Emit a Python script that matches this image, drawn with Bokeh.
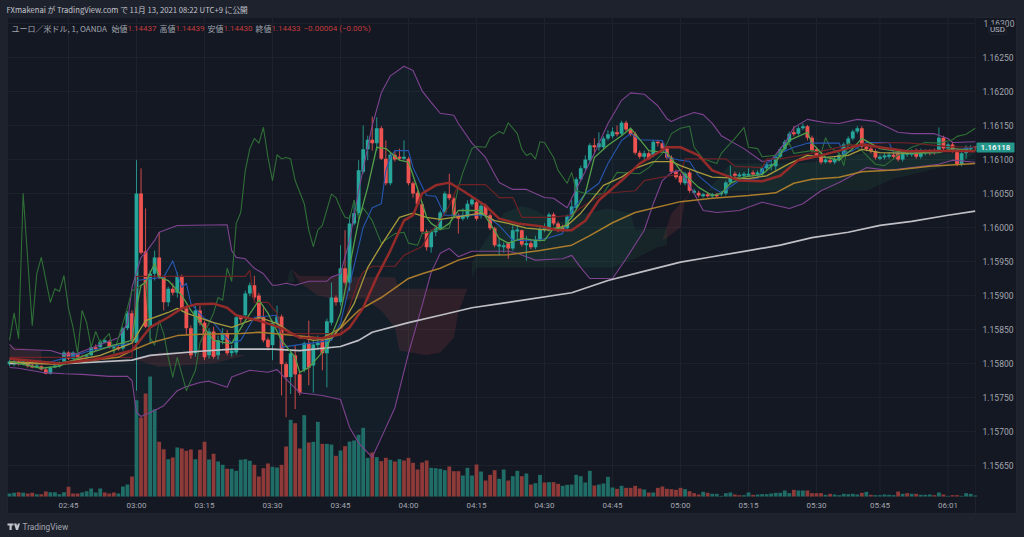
from bokeh.plotting import figure
from bokeh.embed import file_html
from bokeh.resources import INLINE
from bokeh.models import (BoxAnnotation, FixedTicker, Label, NumeralTickFormatter,
                          PolyAnnotation, Range1d)

# All price series are in points (1e-5) above 1.15000; index is the bar number, 03:00 = 0
first_bar = -28
opens = [799,799,803,800,802,797,794,796,791,785,
794,796,803,816,807,815,810,809,812,824,
824,831,832,822,824,822,852,874,
830,1050,965,853,932,956,927,890,910,904,
928,881,852,815,878,860,812,847,812,834,
844,815,816,868,871,903,915,900,868,835,
827,860,869,799,780,812,784,791,830,797,
827,834,815,860,897,890,940,919,1006,1021,
1082,1115,1129,1124,1146,1101,1065,1107,1104,1101,
1101,1065,1051,1034,994,971,993,999,1022,1049,
1043,1018,1013,1015,1034,1037,1018,1032,1018,999,
972,971,977,969,994,996,974,977,971,982,
996,997,1019,1006,1000,999,1016,1029,1071,1087,
1099,1121,1118,1118,1131,1134,1140,1138,1154,1144,
1138,1110,1104,1109,1106,1126,1124,1116,1103,1082,
1076,1065,1081,1051,1051,1046,1049,1046,1049,1049,
1050,1066,1079,1075,1076,1076,1081,1078,1079,1087,
1090,1090,1104,1115,1126,1140,1138,1146,1149,1132,
1115,1104,1096,1099,1096,1100,1107,1122,1131,1141,
1146,1119,1116,1112,1101,1103,1104,1107,1109,1100,
1107,1107,1109,1104,1109,1112,1113,1113,1132,1116,
1122,1113,1093,1109,1115,1119]
closes = [803,803,800,803,796,794,797,791,785,794,
797,802,816,807,816,807,807,812,824,821,
832,834,824,825,821,852,874,835,
1050,963,854,932,956,927,890,910,904,929,
881,852,812,878,860,809,847,810,834,844,
815,819,868,865,903,915,897,866,834,824,
860,869,799,780,815,784,757,830,794,828,
831,815,862,897,890,940,919,1006,1021,1084,
1115,1129,1124,1146,1101,1065,1107,1100,1101,1104,
1065,1050,1034,994,971,994,1000,1022,1050,1043,
1018,1013,1018,1035,1041,1013,1032,1018,999,974,
975,974,969,996,997,975,977,971,982,997,
999,1019,1006,999,997,1016,1031,1071,1087,1100,
1121,1118,1124,1131,1137,1141,1137,1154,1144,1137,
1110,1104,1109,1101,1126,1124,1116,1103,1082,1074,
1066,1079,1054,1054,1047,1049,1046,1049,1046,1051,
1066,1076,1076,1078,1079,1079,1078,1081,1087,1093,
1093,1104,1115,1126,1138,1137,1146,1149,1132,1113,
1106,1096,1100,1096,1101,1107,1122,1131,1141,1146,
1119,1115,1112,1103,1104,1106,1107,1104,1100,1109,
1110,1110,1104,1110,1112,1109,1110,1132,1116,1122,
1113,1093,1109,1118,1118,1118]
highs = [806,806,805,805,805,799,799,797,794,796,
799,803,819,818,818,816,813,813,827,828,
835,837,835,828,827,854,877,878,
1099,1087,1028,937,966,993,929,913,918,934,
931,885,856,885,885,863,852,854,841,852,
849,827,872,871,907,919,929,904,885,838,
863,885,872,802,819,827,787,832,863,834,
841,837,866,919,900,974,996,1018,1040,1099,
1150,1135,1163,1162,1149,1128,1110,1113,1116,1128,
1104,1068,1054,1037,997,997,1003,1025,1053,1079,
1046,1021,1028,1040,1044,1040,1037,1035,1021,1001,
984,978,979,1003,1004,997,988,981,988,1001,
1006,1022,1022,1009,1004,1019,1040,1074,1091,1106,
1124,1131,1140,1134,1143,1147,1150,1157,1157,1147,
1141,1113,1113,1112,1129,1129,1126,1119,1106,1085,
1079,1082,1084,1057,1054,1051,1051,1051,1051,1054,
1069,1091,1082,1081,1082,1087,1084,1084,1090,1096,
1099,1107,1118,1129,1141,1149,1149,1153,1151,1135,
1118,1107,1103,1101,1104,1110,1125,1134,1144,1149,
1149,1122,1119,1115,1107,1109,1110,1110,1112,1112,
1113,1115,1116,1116,1115,1115,1116,1147,1135,1125,
1125,1116,1112,1121,1121,1119]
lows = [796,796,797,797,794,793,793,790,784,784,
793,794,802,805,806,806,806,807,810,818,
822,830,822,821,819,819,849,831,
760,960,852,830,922,924,878,884,900,897,
877,841,807,810,856,805,807,807,806,828,
812,810,813,860,866,899,893,862,831,819,
805,856,753,721,755,733,753,787,768,757,
819,790,765,856,885,885,916,907,1003,1018,
1079,1099,1113,1113,1099,1062,1062,1097,1099,1099,
1062,1044,1031,991,966,963,987,996,1019,1040,
1013,991,1010,1012,1031,1010,1013,1015,996,971,
959,963,954,966,981,972,951,968,968,979,
993,994,1003,993,994,994,1013,1026,1068,1084,
1096,1110,1113,1115,1128,1131,1134,1135,1141,1134,
1107,1101,1100,1099,1103,1119,1113,1100,1079,1071,
1063,1062,1051,1050,1044,1044,1044,1043,1044,1046,
1047,1063,1074,1074,1074,1074,1075,1075,1076,1084,
1084,1084,1101,1112,1124,1134,1135,1143,1128,1110,
1103,1093,1094,1094,1093,1097,1104,1119,1128,1138,
1116,1112,1109,1100,1099,1100,1101,1101,1097,1097,
1104,1104,1101,1101,1106,1106,1107,1110,1113,1113,
1110,1090,1090,1101,1112,1113]
volumes = [9,11,13,11,9,11,7,7,15,13,
13,7,13,29,9,9,12,16,24,12,
24,12,9,12,9,30,36,60,
289,237,309,360,262,164,142,112,117,147,
144,137,141,112,140,164,111,128,105,95,
83,83,77,110,112,107,95,60,85,99,
89,87,95,150,230,220,144,244,162,164,
224,158,158,156,122,138,151,165,168,185,
206,116,132,118,106,116,110,105,112,108,
116,101,81,102,108,86,85,83,79,90,
76,76,63,86,63,96,75,48,65,79,
53,81,48,61,77,61,69,36,40,65,
42,43,43,38,32,35,36,65,61,42,
77,33,36,39,59,27,23,32,26,26,
32,24,21,12,12,26,30,23,22,20,
26,22,16,10,6,14,11,8,8,2,
10,12,6,4,4,12,5,6,7,7,
9,11,11,18,10,20,18,18,18,10,
10,10,5,8,6,4,8,7,8,6,
11,14,5,4,4,6,5,4,15,8,
10,8,8,5,5,6,4,12,6,2,
4,4,2,10,8,3]
volume_dirs = ("ggrgrrgrrg" "gggrrrgggg" "grrrgggr"
"grrggrrgrg" "rrrgrrgrgg" "rgggggrrrr" "ggrrgrrgrg" "grggrgrggg"
"ggrgrrgrgr" "rrrrrggggr" "rrgggrgrrr" "ggrggrgrgg" "rgrrgggggg"
"grggggrgrr" "rrgrgrrrrr" "rgrrrgrggg" "ggrrggrggg" "gggggrggrr"
"rrgrgggggg" "rgrgggggrg" "rgrgggrgrg" "rrgggg")

upper_x = [-28,-27,-19,-16,-13,-4,-2,-1,1,2,4,5,9,20,21,22,24,26,28,30,31,33,35,38,42,43,45,47,49,52,54,56,59,61,63,65,67,70,71,74,77,80,83,86,90,92,95,96,101,104,107,109,112,115,117,118,120,123,125,127,129,134,138,140,143,145,148,152,155,159,163,168,171,176,179,180,185]
upper_y = [828,821,819,813,815,838,859,912,956,963,981,993,1003,1004,966,956,954,940,932,915,915,918,915,921,921,927,932,981,1054,1150,1198,1223,1237,1231,1201,1184,1168,1165,1153,1124,1103,1066,1056,1056,1044,1043,1029,1043,1109,1153,1187,1198,1196,1179,1160,1156,1162,1169,1166,1153,1135,1116,1097,1099,1124,1147,1159,1154,1153,1159,1156,1140,1138,1138,1131,1125,1126]
lower_x = [-28,-26,-21,-16,-12,-6,-2,-1,0,1,4,6,9,11,14,16,20,21,25,29,31,33,36,41,45,47,49,52,54,57,60,63,65,67,69,71,74,82,84,88,94,96,98,100,105,108,112,114,116,118,120,123,125,128,133,138,144,147,151,155,161,166,171,177,180,185]
lower_y = [794,793,787,785,784,781,781,775,728,722,731,738,760,766,772,774,765,780,790,787,791,777,757,753,747,706,683,662,691,735,815,885,934,962,969,957,965,965,962,952,954,959,941,925,925,954,996,1035,1069,1081,1084,1050,1025,1022,1025,1037,1028,1035,1054,1066,1088,1084,1088,1093,1099,1096]
chikou_x = [-28,-27,-26,-25,-23,-22,-21,-19,-18,-17,-16,-15,-14,-13,-12,-11,-10,-9,-8,-6,-5,-2,-1,1,2,3,4,5,6,7,8,9,11,13,14,17,18,19,20,21,22,23,24,25,26,27,28,29,30,31,32,33,34,35,37,38,39,40,41,43,44,45,46,47,48,49,50,52,54,57,59,60,62,63,66,69,71,72,74,75,77,78,80,81,82,84,85,86,87,88,89,90,92,93,95,96,97,99,102,103,106,111,113,116,118,120,122,123,125,128,129,132,134,135,137,138,141,144,145,149,151,152,153,155,156,157,160,163,165,168,171,174,177,180,181,183,185]
chikou_y = [834,874,837,1050,856,932,956,890,910,906,929,881,853,815,878,860,824,847,830,844,815,882,907,915,918,838,827,863,844,809,780,809,760,790,830,874,897,893,940,921,1006,1022,1084,1116,1131,1124,1147,1103,1069,1107,1101,1103,1101,1069,1035,996,972,996,1003,1049,1044,1028,1015,1013,1040,1013,1029,1010,977,991,993,977,974,991,996,999,1059,1081,1116,1119,1118,1132,1141,1138,1154,1138,1115,1106,1109,1101,1126,1125,1103,1084,1065,1081,1054,1050,1049,1050,1081,1079,1088,1109,1138,1146,1149,1118,1101,1094,1109,1131,1147,1118,1116,1104,1106,1124,1109,1113,1109,1132,1118,1109,1091,1124,1113,1093,1091,1106,1118,1125,1124,1129,1134,1137,1146]
tenkan_x = [-28,-19,-10,-8,-1,0,6,8,10,11,12,15,17,19,21,23,26,31,32,43,45,50,52,54,55,56,57,60,61,62,64,66,68,77,80,83,88,91,94,96,99,102,104,107,109,111,116,117,120,122,124,127,129,133,137,139,142,145,148,155,156,158,161,166,167,176,185]
tenkan_y = [807,802,819,822,830,922,927,951,912,918,888,866,860,844,830,834,868,871,824,834,859,1000,1029,1035,1084,1103,1113,1113,1088,1074,1047,1046,1018,1018,1003,981,981,985,991,1025,1050,1065,1094,1128,1138,1129,1128,1103,1099,1097,1076,1059,1051,1069,1072,1094,1109,1118,1124,1124,1109,1113,1125,1125,1110,1110,1118]
kijun_x = [-28,-1,0,24,25,26,29,31,32,45,49,50,52,57,59,63,65,66,69,71,77,80,83,85,91,96,98,103,110,112,116,120,121,130,132,138,139,142,149,157,167,171,179,185]
kijun_y = [809,809,928,928,937,890,890,874,844,844,922,934,943,943,959,972,996,1000,1032,1063,1063,1044,1044,1015,1015,1018,1029,1050,1054,1069,1074,1079,1101,1101,1090,1088,1101,1101,1109,1121,1125,1124,1119,1118]
fast_x = [-28,-21,-17,-10,-5,-1,0,1,2,4,5,7,10,12,15,17,20,21,24,27,29,32,35,36,38,42,45,46,48,49,51,53,55,58,60,62,64,65,67,69,71,76,78,80,82,85,88,90,92,94,96,99,101,104,107,109,113,117,120,124,127,129,131,134,138,141,144,148,149,152,155,158,160,164,171,177,180,185]
fast_y = [803,793,796,816,827,834,882,915,919,947,927,922,900,878,852,834,830,830,863,893,874,834,809,787,794,824,874,907,977,1010,1059,1118,1116,1099,1096,1057,1015,1006,997,1006,1025,1025,1006,984,977,984,981,981,999,999,1015,1050,1103,1121,1135,1146,1113,1110,1084,1059,1047,1050,1065,1074,1078,1096,1128,1140,1124,1103,1099,1116,1131,1116,1109,1110,1116,1113]
yellow_x = [-28,-17,-8,-1,2,7,9,11,17,21,27,31,35,39,43,45,48,51,54,58,61,64,67,70,76,79,82,86,91,95,98,103,107,110,114,118,120,124,127,135,139,144,148,152,157,160,164,171,179,185]
yellow_y = [802,800,812,830,863,875,881,874,860,853,868,859,841,834,837,853,888,941,974,1015,1021,1015,1012,1015,1021,1010,1006,999,996,1003,1021,1062,1074,1087,1097,1097,1091,1081,1074,1072,1076,1094,1106,1103,1106,1115,1110,1109,1113,1113]
red_x = [-28,-17,-8,-1,3,7,10,13,17,20,22,27,32,36,41,45,47,50,53,56,59,61,63,66,69,72,77,80,84,89,93,96,99,102,107,111,117,120,124,127,133,138,142,146,151,155,160,164,170,179,185]
red_y = [807,800,807,819,853,868,881,887,888,882,871,863,852,838,837,843,853,882,927,966,1010,1018,1050,1062,1066,1054,1032,1013,1006,1002,996,996,1010,1040,1069,1094,1118,1118,1106,1084,1069,1068,1076,1099,1106,1113,1122,1118,1112,1113,1112]
orange_x = [-28,-17,-4,-1,3,9,14,23,27,35,41,45,49,54,60,63,67,71,75,82,89,96,100,105,110,120,127,135,141,145,149,155,160,168,175,185]
orange_y = [802,799,809,819,830,841,843,844,846,841,837,852,878,897,925,932,940,952,959,960,966,974,988,1007,1022,1038,1043,1047,1051,1065,1071,1074,1082,1085,1090,1094]
white_x = [-28,-15,-1,3,14,21,30,36,45,49,52,60,67,74,82,96,104,111,120,127,135,142,149,157,164,171,179,185]
white_y = [800,800,805,812,818,821,821,819,825,834,846,860,871,882,890,904,922,934,949,957,966,974,985,993,1003,1009,1018,1024]
cloud_red_x = [[34,36,57,58,73,71,70,67,64,58,57,54,50,45,40,36],[-1,5,17,24,17,5],[-28,-21,-21,-28],[116,118,123,121,120,117]]
cloud_red_y = [[940,929,927,910,910,875,838,816,812,819,853,878,896,893,900,919],[807,816,816,812,800,795],[825,820,803,800],[981,1021,1057,1040,1000,985]]
cloud_green_x = [[74,77,81,85,88,93,99,104,109,110,117,117,115,110,105,98,75,74],[126,131,144,149,161,171,185,182,170,167,161,127],[33,34,35]]
cloud_green_y = [[949,981,1021,1032,1025,1007,1021,1028,1021,997,999,974,971,954,941,941,941,926],[1054,1094,1094,1096,1110,1109,1109,1096,1076,1072,1054,1054],[918,940,920]]

time_ticks = [-15,0,15,30,45,60,75,90,105,120,135,150,164,179]
time_labels = ["02:45","03:00","03:15","03:30","03:45","04:00","04:15","04:30","04:45","05:00","05:15","05:30","05:45","06:01"]
price_ticks = [1.1565,1.157,1.1575,1.158,1.1585,1.159,1.1595,1.16,1.1605,1.161,1.1615,1.162,1.1625,1.163]

BG = "#141823"; OUTER = "#1e222d"; GRID = "#1e222d"; EDGE = "#2a2e39"
UP = "#26a69a"; DOWN = "#ef5350"; VUP = "#1f6d66"; VDOWN = "#8d3a39"
TXT = "#a3a6af"; JP = "Noto Sans CJK JP"

# The plot frame fills the whole page, so that the header and footer texts can sit inside it.
X0, X1 = -30.0, 195.88         # bar numbers at the page edges
Y0, Y1 = 1.155441, 1.163338    # prices at the page edges
LAST_BAR_EDGE = 185.09         # price axis position
BASE_PRICE = 1.156044          # time axis position

def px(vals):
    return [1.15 + v / 1e5 for v in vals]

n = len(opens)
bars = list(range(first_bar, first_bar + n))

p = figure(width=1024, height=537, output_backend="svg", toolbar_location=None,
           x_range=Range1d(X0, X1), y_range=Range1d(Y0, Y1),
           y_axis_location="right", min_border=0,
           min_border_left=0, min_border_right=0, min_border_top=0, min_border_bottom=0)
p.extra_y_ranges = {"vol": Range1d(-123, 1488)}
p.background_fill_color = OUTER
p.border_fill_color = OUTER
p.outline_line_color = None
p.xgrid.grid_line_color = None
p.ygrid.grid_line_color = None

for ax in (p.xaxis[0], p.yaxis[0]):
    ax.axis_line_color = None
    ax.major_tick_line_color = None
    ax.minor_tick_line_color = None
    ax.major_tick_out = 0
    ax.major_tick_in = 0
    ax.minor_tick_out = 0
    ax.minor_tick_in = 0
    ax.major_label_text_color = TXT
    ax.major_label_text_font = "Roboto"
    ax.major_label_text_font_size = "8px"
p.yaxis.major_label_text_font_size = "8.5px"
p.xaxis.ticker = FixedTicker(ticks=time_ticks)
p.xaxis.major_label_overrides = dict(zip(time_ticks, time_labels))
p.xaxis.major_label_standoff = 5
p.xaxis.fixed_location = BASE_PRICE
p.yaxis.ticker = FixedTicker(ticks=price_ticks)
p.yaxis.formatter = NumeralTickFormatter(format="0.00000")
p.yaxis.major_label_standoff = 7
p.yaxis.fixed_location = LAST_BAR_EDGE
p.yaxis.major_label_overrides = {1.163: ""}

# chart panel and its separators
def box(l, r, t, b, fill, line, level="underlay", **kw):
    p.add_layout(BoxAnnotation(left=l, right=r, top=t, bottom=b, left_units="canvas", right_units="canvas",
                               top_units="canvas", bottom_units="canvas", fill_color=fill, fill_alpha=1,
                               line_color=line, line_width=1, level=level, **kw))
box(7, 1016, 17, 513, BG, EDGE)
box(975, 1016, 17, 513, None, EDGE)
box(7, 975, 496, 513, None, EDGE)

# grid lines stop at the panel, so they are drawn as rules at the tick values
p.segment(time_ticks, [BASE_PRICE] * len(time_ticks), time_ticks, [1.163087] * len(time_ticks),
          line_color=GRID, line_width=1)
p.segment([-28.46] * len(price_ticks), price_ticks, [LAST_BAR_EDGE] * len(price_ticks), price_ticks,
          line_color=GRID, line_width=1)

# Bollinger fill and cloud
p.patch(upper_x + lower_x[::-1], px(upper_y + lower_y[::-1]), fill_color=UP, fill_alpha=0.05, line_color=None)
p.patches(cloud_red_x, [px(v) for v in cloud_red_y], fill_color=DOWN, fill_alpha=0.12, line_color=None)
p.patches(cloud_green_x, [px(v) for v in cloud_green_y], fill_color="#3aa860", fill_alpha=0.09, line_color=None)

# volume
p.vbar(x=bars, top=volumes, bottom=0, width=0.84, y_range_name="vol", line_color=None,
       fill_color=[VUP if d == "g" else VDOWN for d in volume_dirs])

# candles
cols = [UP if c >= o else DOWN for o, c in zip(opens, closes)]
p.segment(bars, px(lows), bars, px(highs), line_color=cols, line_width=1, line_alpha=0.85)
p.vbar(x=bars, top=px([max(a, b) for a, b in zip(opens, closes)]),
       bottom=px([min(a, b) for a, b in zip(opens, closes)]), width=0.84, fill_color=cols, line_color=None)

# indicators
for xs, ys, c, w in [(upper_x, upper_y, "#7f4390", 1.1), (lower_x, lower_y, "#7f4390", 1.1),
                     (chikou_x, chikou_y, "#2f6f36", 1.1), (tenkan_x, tenkan_y, "#2756b0", 1.1),
                     (kijun_x, kijun_y, "#6e2225", 1.2), (white_x, white_y, "#bfbfc6", 1.7),
                     (orange_x, orange_y, "#a97c2c", 1.5), (yellow_x, yellow_y, "#a89b3c", 1.3),
                     (fast_x, fast_y, "#549e49", 1.3), (red_x, red_y, "#942b29", 2.5)]:
    p.line(xs, px(ys), line_color=c, line_width=w, line_join="round")

def label(x, y, text, color=TXT, size="8px", font=JP, style="normal", align="left"):
    p.add_layout(Label(x=x, y=y, x_units="canvas", y_units="canvas", text=text, text_color=color,
                       text_font_size=size, text_font=font, text_font_style=style,
                       text_baseline="middle", text_align=align, level="overlay"))

label(6, 9, "FXmakenai が TradingView.com で 11月 13, 2021 08:22 UTC+9 に公開", "#c3c5cc", size="7.7px")
label(11, 27.5, "ユーロ／米ドル, 1, OANDA", "#a3a6af")
for x, t in [(111, "始値"), (159, "高値"), (207, "安値"), (255, "終値")]:
    label(x, 27.5, t, "#a3a6af")
for x, t in [(127, "1.14437"), (175, "1.14439"), (223, "1.14430"), (271, "1.14433"), (303, "−0.00004 (−0.00%)")]:
    label(x, 27.5, t, "#c23a3c", font="Roboto")

# USD badge, sitting over the top price label
label(983, 23, "1.16300", TXT, size="8.5px", font="Roboto")
box(988, 1006, 24, 34, BG, "#3a3e4a", level="overlay", border_radius=3)
label(997, 29, "USD", "#b5b8c0", size="8px", font="Roboto", align="center")
# last-price tag
box(976, 1014, 142, 152, "#24968b", None, level="overlay", border_radius=1)
label(995, 147, "1.16118", "#e8f3f2", size="8px", font="Roboto", style="bold", align="center")

# TradingView mark
p.add_layout(PolyAnnotation(xs=[7, 13, 13, 11.2, 11.2, 9, 9, 7], ys=[523, 523, 525, 525, 529.5, 529.5, 525, 525],
                            xs_units="canvas", ys_units="canvas", fill_color="#c3c5cc", fill_alpha=1,
                            line_color=None, level="overlay"))
p.add_layout(PolyAnnotation(xs=[13.5, 16, 16.5, 17.5, 19.5, 17.5, 15.5], ys=[523, 523, 525.5, 523, 523, 529.5, 529.5],
                            xs_units="canvas", ys_units="canvas", fill_color="#c3c5cc", fill_alpha=1,
                            line_color=None, level="overlay"))
label(22, 526, "TradingView", "#a3a6af", size="8.3px", font="Roboto")

html = file_html(p, INLINE)
html = html.replace("<body>", '<body style="margin:0;overflow:hidden;background:#1e222d">')
open("out.html", "w").write(html)
